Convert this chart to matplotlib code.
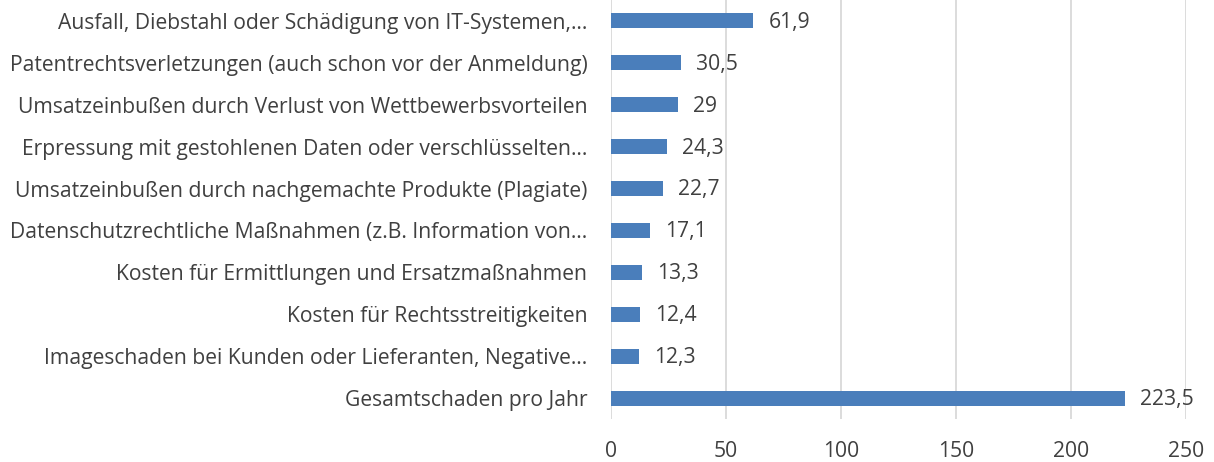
import matplotlib
matplotlib.use("Agg")
import matplotlib.pyplot as plt

# Kategorien (von oben nach unten) und Werte in Mrd. Euro
kategorien = [
    "Ausfall, Diebstahl oder Schädigung von IT-Systemen,…",
    "Patentrechtsverletzungen (auch schon vor der Anmeldung)",
    "Umsatzeinbußen durch Verlust von Wettbewerbsvorteilen",
    "Erpressung mit gestohlenen Daten oder verschlüsselten…",
    "Umsatzeinbußen durch nachgemachte Produkte (Plagiate)",
    "Datenschutzrechtliche Maßnahmen (z.B. Information von…",
    "Kosten für Ermittlungen und Ersatzmaßnahmen",
    "Kosten für Rechtsstreitigkeiten",
    "Imageschaden bei Kunden oder Lieferanten, Negative…",
    "Gesamtschaden pro Jahr",
]
werte = [61.9, 30.5, 29, 24.3, 22.7, 17.1, 13.3, 12.4, 12.3, 223.5]
xticks = [0, 50, 100, 150, 200, 250]

plt.rcParams['font.family'] = ['Open Sans', 'DejaVu Sans']
textfarbe = '#404040'
fs = 15.2

fig = plt.figure(figsize=(12.14, 4.62), dpi=100)
ax = fig.add_axes([611/1214, 1 - 419/462, 575/1214, 419/462])

y = list(range(len(werte)))
ax.barh(y, werte, height=0.36, color='#4A7EBB', zorder=3)
ax.set_ylim(len(werte) - 0.5, -0.5)
ax.set_xlim(0, 250)

for yi, w in zip(y, werte):
    txt = ('%g' % w).replace('.', ',')
    ax.annotate(txt, (w, yi), xytext=(11, -1), textcoords='offset points',
                va='center', ha='left', fontsize=fs, color=textfarbe)

ax.set_yticks(y)
ax.set_yticklabels(kategorien, fontsize=fs, color=textfarbe)
ax.set_xticks(xticks)
ax.set_xticklabels([str(t) for t in xticks], fontsize=fs, color=textfarbe)
ax.tick_params(axis='y', length=0, pad=17)
ax.tick_params(axis='x', length=0, pad=16)
ax.grid(axis='x', color='#D9D9D9', linewidth=1.3, zorder=0)
for s in ax.spines.values():
    s.set_visible(False)

fig.savefig('out.png', dpi=100)
